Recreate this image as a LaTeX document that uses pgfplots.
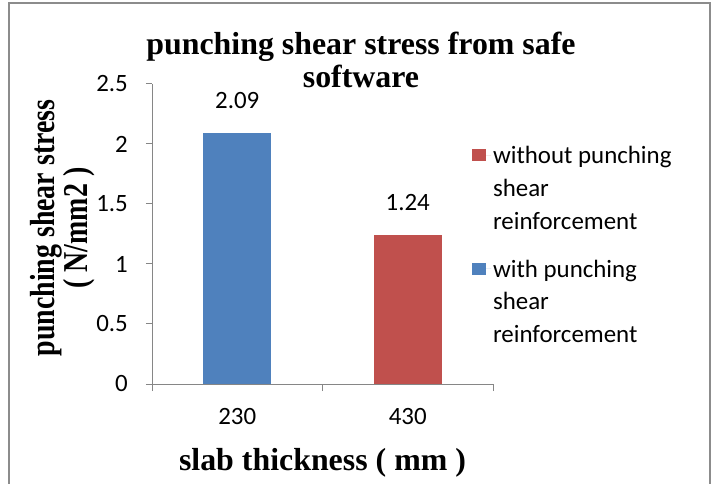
\documentclass[border=0pt]{standalone}
\usepackage{fontspec}
\setmainfont{Liberation Serif}
\newfontfamily\calibri{Carlito}
\usepackage{graphicx}
\usepackage{pgfplots}
\pgfplotsset{compat=1.18}
\definecolor{exblue}{HTML}{4F81BD}
\definecolor{exred}{HTML}{C0504D}
\definecolor{axgray}{HTML}{868686}
\definecolor{framegray}{HTML}{8C8C8C}
\begin{document}
\begin{tikzpicture}
\useasboundingbox (0,0) rectangle (715bp,484bp);
\draw[framegray, line width=1.5bp] (9bp,-2bp) -- (9bp,481bp) -- (710bp,481bp) -- (710bp,-2bp);
\node[font=\bfseries\fontsize{32}{36}\selectfont, anchor=base] at (361bp,429bp) {punching shear stress from safe};
\node[font=\bfseries\fontsize{32}{36}\selectfont, anchor=base] at (361bp,396bp) {software};
\begin{axis}[
  at={(152bp,100bp)}, anchor=south west,
  scale only axis, width=341bp, height=300bp,
  xmin=-0.5, xmax=1.5, ymin=0, ymax=2.5,
  axis lines=left, axis line style={-, draw=axgray, line width=1bp},
  xtick={0,1}, xticklabels={230,430},
  major x tick style={draw=none},
  minor xtick={-0.5,0.5,1.5},
  ytick={0,0.5,1,1.5,2,2.5},
  tick align=outside, major tick length=6bp, minor tick length=7bp,
  every tick/.style={axgray, line width=1bp},
  minor x tick style={axgray, line width=1bp},
  /pgf/number format/assume math mode=true,
  ticklabel style={font=\calibri\fontsize{25}{30}\selectfont},
  yticklabel style={inner sep=0pt, xshift=-18bp},
  xticklabel style={inner sep=0pt, yshift=-18bp},
  ybar, bar width=68bp, bar shift=0pt,
  nodes near coords,
  nodes near coords style={font=\calibri\fontsize{25}{30}\selectfont, anchor=base, yshift=25bp, inner sep=0pt, text=black},
  xlabel={slab thickness ( mm )},
  xlabel style={at={(axis description cs:0.5,-0.29)}, anchor=base, inner sep=0pt, font=\bfseries\fontsize{32}{36}\selectfont},
  ylabel={\scalebox{0.8}[1]{punching shear stress}\\\scalebox{0.8}[1]{( N/mm2 )}},
  ylabel style={at={(axis description cs:-0.263,0.52)}, anchor=center, align=center, inner sep=0pt, font=\bfseries\fontsize{35}{31}\selectfont},
  legend style={at={(0.938,0.80)}, anchor=north west, draw=none, fill=none,
    font=\calibri\fontsize{25}{33}\selectfont, cells={align=left, anchor=west}, row sep=25bp, inner sep=0pt},
  legend image code/.code={\fill[#1] (0bp,27bp) rectangle (14bp,39bp); \path (14bp,33bp) -- (19bp,33bp);},
]
\addplot[fill=exred, draw=none] coordinates {(1,1.24)};
\addlegendentry{without punching\\shear\\reinforcement}
\addplot[fill=exblue, draw=none] coordinates {(0,2.09)};
\addlegendentry{with punching\\shear\\reinforcement}
\end{axis}
\end{tikzpicture}
\end{document}
